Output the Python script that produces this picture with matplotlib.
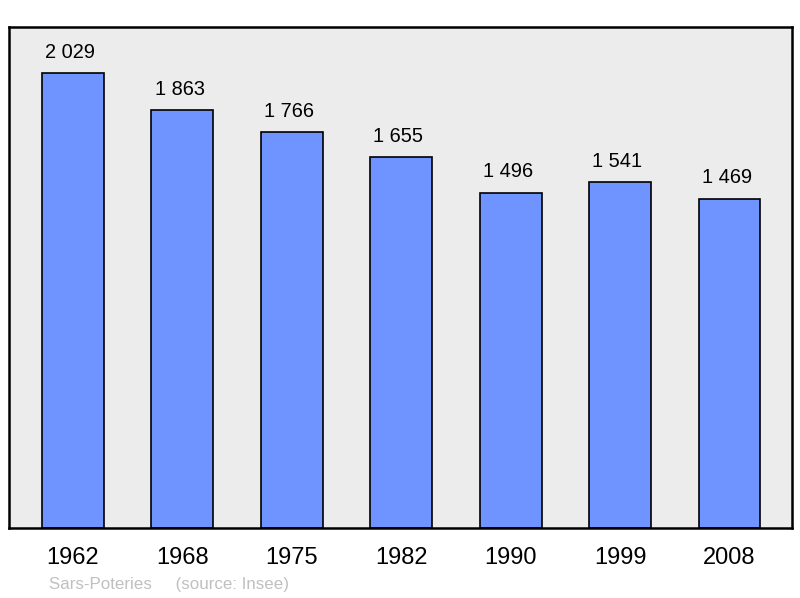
import matplotlib
matplotlib.use("Agg")
import matplotlib.pyplot as plt

plt.rcParams['font.family'] = ['Liberation Sans', 'DejaVu Sans']

years = ['1962', '1968', '1975', '1982', '1990', '1999', '2008']
population = [2029, 1863, 1766, 1655, 1496, 1541, 1469]
labels = ['2 029', '1 863', '1 766', '1 655', '1 496', '1 541', '1 469']

fig = plt.figure(figsize=(8, 5.98), dpi=100)
# axes box in pixels: left 9, right 792, top 27, bottom 528
W, H = 800, 598
ax = fig.add_axes([9 / W, 1 - 528 / H, 783 / W, 501 / H])
ax.set_facecolor('#ececec')

x = list(range(len(years)))
ax.bar(x, population, width=0.566, color='#7094ff', edgecolor='black',
       linewidth=1.2, zorder=2)
for xi, v, lab in zip(x, population, labels):
    ax.annotate(lab, (xi, v), xytext=(-2, 8), textcoords='offset points',
                ha='center', va='bottom', fontsize=14.4)

ax.set_xlim(-0.584, 6.571)
ax.set_ylim(0, 2234)
ax.set_yticks([])
ax.set_xticks(x)
ax.set_xticklabels(years, fontsize=17)
ax.tick_params(axis='x', length=0, pad=14)
for s in ax.spines.values():
    s.set_linewidth(1.8)

fig.text(49 / W, 1 - 584 / H, 'Sars-Poteries     (source: Insee)',
         color='#c0c0c0', fontsize=12.2, va='center', ha='left')

fig.savefig('out.png', dpi=100)
